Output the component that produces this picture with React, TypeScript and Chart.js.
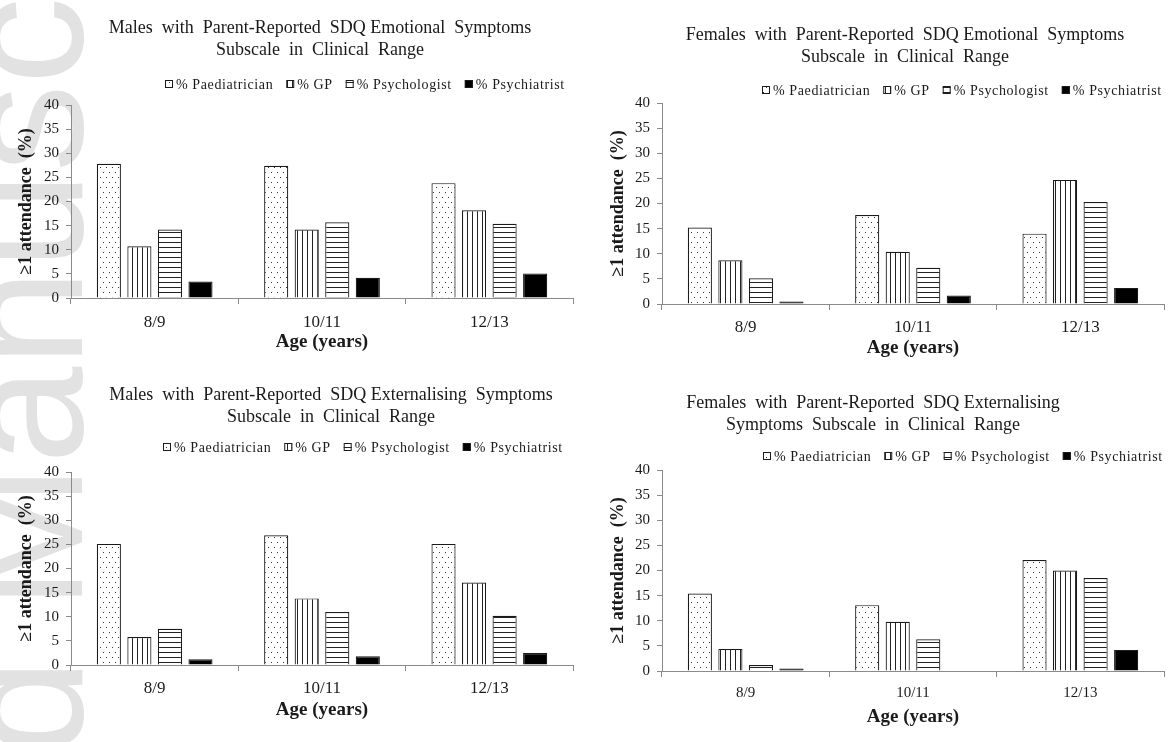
import React, { useEffect, useRef } from "react";
import { Chart, registerables } from "chart.js";

Chart.register(...registerables);

// ---------- data ----------
const ageGroups = ["8/9", "10/11", "12/13"];
const seriesNames = ["% Paediatrician", "% GP", "% Psychologist", "% Psychiatrist"];
const yTickStep = 5;
const yMax = 40;

const maleEmoPaediatrician = [27.8, 27.4, 23.8];
const maleEmoGP = [10.7, 14.2, 18.2];
const maleEmoPsychologist = [14.2, 15.7, 15.4];
const maleEmoPsychiatrist = [3.4, 4.2, 5.1];

const femaleEmoPaediatrician = [15.2, 17.7, 14.0];
const femaleEmoGP = [8.7, 10.4, 24.7];
const femaleEmoPsychologist = [5.1, 7.2, 20.3];
const femaleEmoPsychiatrist = [0.5, 1.7, 3.2];

const maleExtPaediatrician = [25.1, 26.9, 25.1];
const maleExtGP = [5.8, 13.8, 17.1];
const maleExtPsychologist = [7.5, 11.0, 10.2];
const maleExtPsychiatrist = [1.2, 1.8, 2.5];

const femaleExtPaediatrician = [15.4, 13.1, 22.1];
const femaleExtGP = [4.4, 9.8, 20.0];
const femaleExtPsychologist = [1.2, 6.3, 18.5];
const femaleExtPsychiatrist = [0.5, 0, 4.2];

const maleEmoTitle = ["Males  with  Parent-Reported  SDQ Emotional  Symptoms", "Subscale  in  Clinical  Range"];
const femaleEmoTitle = ["Females  with  Parent-Reported  SDQ Emotional  Symptoms", "Subscale  in  Clinical  Range"];
const maleExtTitle = ["Males  with  Parent-Reported  SDQ Externalising  Symptoms", "Subscale  in  Clinical  Range"];
const femaleExtTitle = ["Females  with  Parent-Reported  SDQ Externalising", "Symptoms  Subscale  in  Clinical  Range"];

const xAxisTitle = "Age (years)";
const yAxisTitle = "\u22651 attendance  (%)";

// ---------- layout / style ----------
const FONT = '"Liberation Serif", "Times New Roman", serif';
const AXIS_GREY = "#8a8a8a";
const INK = "#1a1a1a";

type Panel = {
  title: string[];
  series: number[][];
  left: number; top: number; w: number; h: number;
  area: { l: number; r: number; t: number; b: number };
  yTitleX: number; xTitleY: number; tickPad: number; xTickSize: number;
  titleX: number; titleY: number; legendY: number; legendRight: number;
};

const panels: Panel[] = [
  {
    title: maleEmoTitle,
    series: [maleEmoPaediatrician, maleEmoGP, maleEmoPsychologist, maleEmoPsychiatrist],
    left: 0, top: 0, w: 588, h: 370,
    area: { l: 71, r: 573, t: 105, b: 298 },
    yTitleX: 26, xTitleY: 342, tickPad: 8, xTickSize: 17,
    titleX: 320, titleY: 28, legendY: 84, legendRight: 565,
  },
  {
    title: femaleEmoTitle,
    series: [femaleEmoPaediatrician, femaleEmoGP, femaleEmoPsychologist, femaleEmoPsychiatrist],
    left: 588, top: 0, w: 588, h: 370,
    area: { l: 74, r: 576, t: 103, b: 304 },
    yTitleX: 30, xTitleY: 348, tickPad: 7, xTickSize: 17,
    titleX: 317, titleY: 35, legendY: 90, legendRight: 574,
  },
  {
    title: maleExtTitle,
    series: [maleExtPaediatrician, maleExtGP, maleExtPsychologist, maleExtPsychiatrist],
    left: 0, top: 370, w: 588, h: 372,
    area: { l: 71, r: 573, t: 102, b: 295 },
    yTitleX: 26, xTitleY: 340, tickPad: 7, xTickSize: 17,
    titleX: 331, titleY: 25, legendY: 77, legendRight: 563,
  },
  {
    title: femaleExtTitle,
    series: [femaleExtPaediatrician, femaleExtGP, femaleExtPsychologist, femaleExtPsychiatrist],
    left: 588, top: 370, w: 588, h: 372,
    area: { l: 74, r: 576, t: 100, b: 301 },
    yTitleX: 30, xTitleY: 347, tickPad: 7, xTickSize: 15,
    titleX: 285, titleY: 33, legendY: 86, legendRight: 575,
  },
];

// ---------- patterns ----------
function makePattern(kind: number): CanvasPattern | string {
  if (kind === 3) return "#000000";
  const tile = document.createElement("canvas");
  const c = tile.getContext("2d")!;
  if (kind === 0) {
    tile.width = 6; tile.height = 10;
    c.fillStyle = "#ffffff"; c.fillRect(0, 0, 6, 10);
    c.fillStyle = "#333333";
    c.fillRect(1, 2, 1, 1);
    c.fillRect(4, 7, 1, 1);
  } else if (kind === 1) {
    tile.width = 5; tile.height = 2;
    c.fillStyle = "#ffffff"; c.fillRect(0, 0, 5, 2);
    c.fillStyle = "#222222"; c.fillRect(2, 0, 1, 2);
  } else {
    tile.width = 2; tile.height = 5;
    c.fillStyle = "#ffffff"; c.fillRect(0, 0, 2, 5);
    c.fillStyle = "#222222"; c.fillRect(0, 2, 2, 1);
  }
  return c.createPattern(tile, "repeat")!;
}

// ---------- plugin for title + legend ----------
const decorPlugin = {
  id: "panelDecor",
  afterDraw(chart: any, _args: any, opts: any) {
    const ctx: CanvasRenderingContext2D = chart.ctx;
    ctx.save();
    ctx.fillStyle = INK;
    ctx.font = `18px ${FONT}`;
    ctx.textAlign = "center";
    ctx.textBaseline = "middle";
    (opts.titleLines as string[]).forEach((line, i) => {
      ctx.fillText(line, opts.titleX, opts.titleY + i * 22);
    });

    ctx.font = `14px ${FONT}`;
    (ctx as any).letterSpacing = "0.6px";
    ctx.textAlign = "left";
    const box = 8;
    const boxGap = 3;
    const itemGap = 13;
    const items = chart.data.datasets.map((ds: any) => ({
      label: ds.label as string,
      fill: ds.backgroundColor,
      w: ctx.measureText(ds.label).width,
    }));
    const total =
      items.reduce((s: number, it: any) => s + box + boxGap + it.w, 0) + itemGap * (items.length - 1);
    let x = Math.round(opts.legendRight - total);
    const y = opts.legendY;
    items.forEach((it: any) => {
      ctx.fillStyle = it.fill;
      ctx.fillRect(x, y - box / 2, box, box);
      ctx.strokeStyle = INK;
      ctx.lineWidth = 1;
      ctx.strokeRect(x + 0.5, Math.round(y - box / 2) + 0.5, box - 1, box - 1);
      ctx.fillStyle = INK;
      ctx.fillText(it.label, x + box + boxGap, y + 1);
      x += box + boxGap + it.w + itemGap;
    });
    ctx.restore();
  },
};

function PanelChart({ p }: { p: Panel }) {
  const ref = useRef<HTMLCanvasElement | null>(null);
  useEffect(() => {
    if (!ref.current) return;
    const yHalf = (18 * 1.2) / 2;
    const xHalf = (19 * 1.2) / 2;
    const padLeft = p.yTitleX - yHalf;
    const padRight = p.w - p.area.r;
    const xBottom = p.xTitleY + xHalf;
    const padBottom = p.h - xBottom;
    const yWidth = p.area.l - padLeft;
    const xHeight = xBottom - p.area.b;

    const chart = new Chart(ref.current, {
      type: "bar",
      data: {
        labels: ageGroups,
        datasets: seriesNames.map((name, i) => ({
          label: name,
          data: p.series[i],
          backgroundColor: makePattern(i) as any,
          borderColor: "#1a1a1a",
          borderWidth: 1.2,
          categoryPercentage: 0.73,
          barPercentage: 0.79,
        })),
      },
      options: {
        responsive: false,
        animation: false,
        events: [],
        layout: { padding: { left: padLeft, right: padRight, top: p.area.t, bottom: padBottom } },
        plugins: {
          legend: { display: false },
          title: { display: false },
          tooltip: { enabled: false },
          panelDecor: {
            titleLines: p.title,
            titleX: p.titleX,
            titleY: p.titleY,
            legendY: p.legendY,
            legendRight: p.legendRight,
          },
        } as any,
        scales: {
          x: {
            grid: {
              display: true,
              drawOnChartArea: false,
              drawTicks: true,
              tickLength: 6,
              color: AXIS_GREY,
              offset: true,
            },
            border: { display: true, color: AXIS_GREY, width: 1 },
            ticks: { font: { family: FONT, size: p.xTickSize }, color: INK, padding: p.tickPad },
            title: {
              display: true,
              text: xAxisTitle,
              font: { family: FONT, size: 19, weight: "bold" },
              color: INK,
              padding: 0,
            },
            afterFit: (s: any) => {
              s.height = xHeight;
            },
          },
          y: {
            min: 0,
            max: yMax,
            ticks: { stepSize: yTickStep, font: { family: FONT, size: 15 }, color: INK, padding: 7 },
            grid: { drawOnChartArea: false, drawTicks: true, tickLength: 5, color: AXIS_GREY },
            border: { display: true, color: AXIS_GREY, width: 1 },
            title: {
              display: true,
              text: yAxisTitle,
              font: { family: FONT, size: 18, weight: "bold" },
              color: INK,
              padding: 0,
            },
            afterFit: (s: any) => {
              s.width = yWidth;
            },
          },
        } as any,
      },
      plugins: [decorPlugin as any],
    });
    return () => chart.destroy();
  }, [p]);

  return (
    <canvas
      ref={ref}
      width={p.w}
      height={p.h}
      style={{ position: "absolute", left: p.left, top: p.top, width: p.w, height: p.h, display: "block" }}
    />
  );
}

export default function App() {
  return (
    <div
      style={{
        position: "absolute",
        left: 0,
        top: 0,
        width: 1176,
        height: 742,
        overflow: "hidden",
        background: "#ffffff",
      }}
    >
      <div
        style={{
          position: "absolute",
          left: 0,
          top: 0,
          width: 90,
          height: 742,
          overflow: "hidden",
          pointerEvents: "none",
        }}
      >
        <div
          style={{
            position: "absolute",
            left: -66,
            top: 1388,
            fontFamily: '"Liberation Sans", Arial, sans-serif',
            fontSize: 175,
            lineHeight: 1,
            whiteSpace: "nowrap",
            color: "#e2e2e2",
            transformOrigin: "0 0",
            transform: "rotate(-90deg)",
          }}
        >
          Accepted Manuscript
        </div>
      </div>
      {panels.map((p, i) => (
        <PanelChart key={i} p={p} />
      ))}
    </div>
  );
}
